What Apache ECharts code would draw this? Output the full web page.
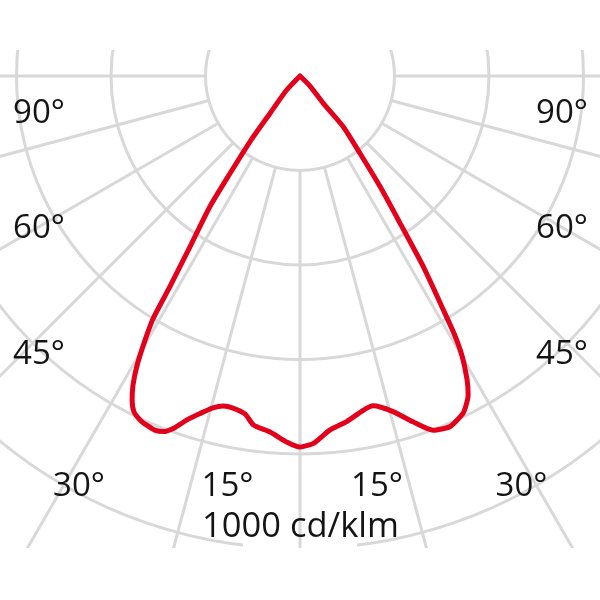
<!DOCTYPE html>
<html>
<head>
<meta charset="utf-8">
<script src="https://cdn.jsdelivr.net/npm/echarts@6/dist/echarts.min.js"></script>
<style>
html,body{margin:0;padding:0;background:#fff;}
#chart{width:600px;height:600px;}
</style>
</head>
<body>
<div id="chart"></div>
<script>
// Luminous intensity distribution (cd/klm); angle in degrees from nadir (negative = left)
const angleDeg = [-45, -43.5, -38.8, -37.3, -35.7, -34.6, -32.8, -31.7, -31.2, -30.4, -29.4, -28.4, -27.4, -26.3, -24.9, -23.7, -22.3, -21.0, -19.6, -18.2, -16.5, -14.7, -13.1, -11.4, -9.2, -7.6, -4.8, -2.1, 0,
  2.1, 4.8, 7.7, 10.7, 12.5, 15.5, 18.1, 20.6, 23.2, 25.8, 26.8, 27.8, 28.8, 30.1, 30.9, 31.5, 32.9, 34.2, 35.9, 37.8, 40.5, 40.5, 45, 45];
const intensity = [0, 41, 101, 175, 254, 336, 430, 524, 600, 648, 702, 743, 772, 793, 803, 807, 810, 806, 790, 766, 745, 726, 717, 717, 725, 745, 756, 775, 785,
  778, 752, 738, 720, 715, 737, 770, 801, 807, 793, 780, 763, 734, 683, 634, 581, 480, 377, 289, 207, 141, 76, 30, 0];

const ringValues = [200, 400, 600, 800, 1000];   // ring step 200 cd/klm
const scaleLabel = '1000 cd/klm';
const leftLabels = ['90°', '60°', '45°', '30°', '15°'];
const rightLabels = ['90°', '60°', '45°', '30°', '15°'];

const GRID = '#d8d8d8';
const RED = '#e2001a';
const TXT = '#141414';

const chart = echarts.init(document.getElementById('chart'), null, {renderer: 'canvas'});

const spokeTicks = [];
for (let a = -180; a <= 180; a += 15) spokeTicks.push(a);
const spokeColors = spokeTicks.map(a => Math.abs(a) <= 90 ? GRID : 'rgba(0,0,0,0)');

const leftPos = [[39, 114], [39, 229], [39, 355], [79, 487], [227.5, 487]];
const rightPos = [[562, 114], [562, 229], [562, 355], [521.5, 487], [377, 487]];
const font = '33px "Open Sans"';
const labelEls = [];
leftLabels.forEach((t, i) => labelEls.push({type: 'text', x: leftPos[i][0], y: leftPos[i][1], z: 101,
  style: {text: t, font: font, fill: TXT, align: 'center', verticalAlign: 'middle'}}));
rightLabels.forEach((t, i) => labelEls.push({type: 'text', x: rightPos[i][0], y: rightPos[i][1], z: 101,
  style: {text: t, font: font, fill: TXT, align: 'center', verticalAlign: 'middle'}}));
labelEls.push({type: 'text', x: 300.5, y: 527, z: 101,
  style: {text: scaleLabel, font: '34.5px "Open Sans"', fill: TXT, align: 'center', verticalAlign: 'middle'}});

const option = {
  animation: false,
  backgroundColor: '#ffffff',
  polar: [
    {center: [300, 76], radius: [0, 567]},
    {center: [300, 76], radius: [94.5, 567]}
  ],
  angleAxis: [
    {polarIndex: 0, type: 'value', min: -180, max: 180, startAngle: 90, clockwise: false,
     axisLine: {show: false}, axisTick: {show: false}, axisLabel: {show: false}, splitLine: {show: false}},
    {polarIndex: 1, type: 'value', min: -180, max: 180, interval: 15, startAngle: 90, clockwise: false, z: 5,
     axisLine: {show: false}, axisTick: {show: false}, axisLabel: {show: false},
     splitLine: {show: true, lineStyle: {color: spokeColors, width: 3}}}
  ],
  radiusAxis: [
    {polarIndex: 0, type: 'value', min: 0, max: 1200, interval: ringValues[0], z: 0,
     axisLine: {show: false}, axisTick: {show: false}, axisLabel: {show: false},
     splitLine: {show: true, lineStyle: {color: GRID, width: 3}}},
    {polarIndex: 1, type: 'value', min: 0, max: 1,
     axisLine: {show: false}, axisTick: {show: false}, axisLabel: {show: false}, splitLine: {show: false}}
  ],
  graphic: [
    {type: 'rect', z: 3, shape: {x: 243, y: 538, width: 114, height: 12}, style: {fill: '#ffffff'}},
    {type: 'rect', z: 100, shape: {x: 0, y: 0, width: 600, height: 50}, style: {fill: '#ffffff'}},
    {type: 'rect', z: 100, shape: {x: 0, y: 548, width: 600, height: 52}, style: {fill: '#ffffff'}}
  ].concat(labelEls),
  series: [{
    type: 'line',
    coordinateSystem: 'polar',
    polarIndex: 0,
    showSymbol: false,
    smooth: 0.2,
    z: 10,
    lineStyle: {color: RED, width: 5, cap: 'round', join: 'round'},
    data: angleDeg.map((a, i) => [intensity[i], a])
  }]
};
chart.setOption(option);
</script>
</body>
</html>
